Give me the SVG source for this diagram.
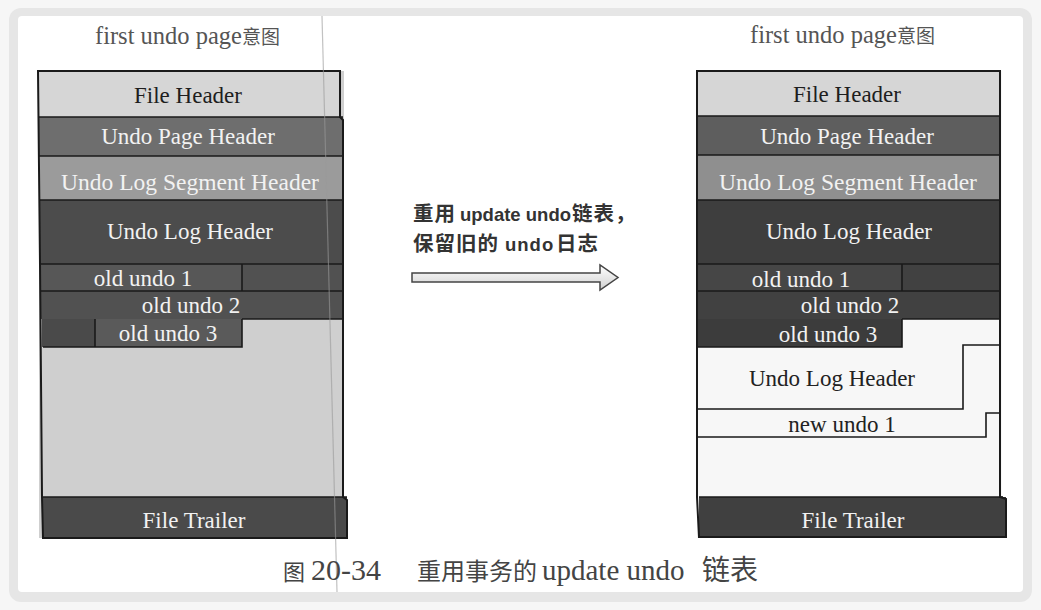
<svg xmlns="http://www.w3.org/2000/svg" width="1041" height="610" viewBox="0 0 1041 610">
<style>
.serif{font-family:"Liberation Serif","Noto Serif CJK SC","Noto Sans CJK SC",serif;}
.lbl{font-family:"Liberation Serif",serif;font-size:23px;text-anchor:middle;}
.lt{fill:#f2f2f2;}
.dk{fill:#1e1e1e;}
.sep{stroke:#1a1a1a;stroke-width:1.6;fill:none;}
.frame{stroke:#1a1a1a;stroke-width:2;fill:none;}
.title{font-family:"Liberation Serif","Noto Sans CJK SC",serif;font-size:24.5px;fill:#555;}
.cj{font-family:"Noto Sans CJK SC",sans-serif;font-size:19px;}
.cjkb{font-family:"Noto Sans CJK SC","Liberation Sans",sans-serif;font-size:20.5px;letter-spacing:1px;font-weight:bold;fill:#333;}
.lat{font-family:"Liberation Sans",sans-serif;font-size:18.5px;font-weight:bold;fill:#333;}
.capc{font-family:"Noto Sans CJK SC",sans-serif;font-size:24px;fill:#444;}
.capl{font-family:"Liberation Serif",serif;font-size:29px;fill:#444;}
</style>
<rect width="1041" height="610" fill="#f6f6f6"/>
<rect x="9" y="8" width="1023" height="594" rx="12" fill="#e6e6e6"/>
<rect x="18" y="16" width="1005" height="576" rx="4" fill="#ffffff"/>

<text class="title" x="95" y="44">first undo page<tspan class="cj">意图</tspan></text>
<text class="title" x="750" y="43">first undo page<tspan class="cj">意图</tspan></text>

<!-- left page -->
<g id="left-page">
  <rect x="39" y="71" width="305" height="467" fill="#cfcfcf"/>
  <g id="l-file-header"><rect x="39" y="71" width="302" height="46" fill="#d6d6d6"/><text class="lbl dk" x="188" y="103">File Header</text></g>
  <g id="l-undo-page-header"><rect x="39" y="117" width="304" height="39" fill="#6e6e6e"/><text class="lbl lt" x="188" y="144">Undo Page Header</text></g>
  <g id="l-undo-log-segment-header"><rect x="40" y="156" width="303" height="44" fill="#9b9b9b"/><text class="lbl lt" x="190" y="190" style="font-size:23.5px">Undo Log Segment Header</text></g>
  <g id="l-undo-log-header"><rect x="40" y="200" width="303" height="64" fill="#4c4c4c"/><text class="lbl lt" x="190" y="239">Undo Log Header</text></g>
  <g id="l-old-undo-1"><rect x="41" y="264" width="302" height="55" fill="#515151"/><rect x="41" y="264" width="201" height="27" fill="#575757"/><text class="lbl lt" x="143" y="286">old undo 1</text></g>
  <g id="l-old-undo-2"><text class="lbl lt" x="191" y="313">old undo 2</text></g>
  <g id="l-old-undo-3"><rect x="42" y="319" width="200" height="28" fill="#4a4a4a"/><rect x="95" y="319" width="147" height="28" fill="#5a5a5a"/><text class="lbl lt" x="168" y="341">old undo 3</text></g>
  <g id="l-file-trailer"><rect x="43" y="497" width="304" height="41" fill="#4a4a4a"/><text class="lbl lt" x="194" y="528">File Trailer</text></g>
  <path class="sep" d="M39 117H343M39 156H343M40 200H343M40 264H343M41 291H343M242 264V291M242 319H343M242 319V347H43M95 319V347M43 497H347"/>
  <path class="frame" d="M38 71H340V117L343 120V497L347 500V538H43L42 497L40 264L38 71Z"/>
</g>

<!-- arrow and label -->
<g id="arrow-label">
  <text class="cjkb" x="413" y="221">重用</text>
  <text class="lat" x="460" y="221">update undo</text>
  <text class="cjkb" x="572" y="221">链表，</text>
  <text class="cjkb" x="413" y="251">保留旧的</text>
  <text class="lat" x="505" y="251" letter-spacing="1">undo</text>
  <text class="cjkb" x="556" y="251">日志</text>
</g>
<g id="connectors">
  <defs><linearGradient id="ag" x1="0" y1="0" x2="0" y2="1"><stop offset="0" stop-color="#ffffff"/><stop offset="1" stop-color="#d0d0d0"/></linearGradient></defs>
  <path d="M412 273H600V265L618 277.5L600 290V282H412Z" fill="url(#ag)" stroke="#444" stroke-width="1.5" stroke-linejoin="miter"/>
</g>

<!-- right page -->
<g id="right-page">
  <rect x="697" y="71" width="305" height="467" fill="#f7f7f7"/>
  <g id="r-file-header"><rect x="697" y="71" width="303" height="45" fill="#d6d6d6"/><text class="lbl dk" x="847" y="102">File Header</text></g>
  <g id="r-undo-page-header"><rect x="697" y="116" width="303" height="39" fill="#5e5e5e"/><text class="lbl lt" x="847" y="144">Undo Page Header</text></g>
  <g id="r-undo-log-segment-header"><rect x="697" y="155" width="303" height="45" fill="#8f8f8f"/><text class="lbl lt" x="848" y="190" style="font-size:23.5px">Undo Log Segment Header</text></g>
  <g id="r-undo-log-header"><rect x="697" y="200" width="303" height="64" fill="#3e3e3e"/><text class="lbl lt" x="849" y="239">Undo Log Header</text></g>
  <g id="r-old-undo-1"><rect x="697" y="264" width="303" height="55" fill="#414141"/><rect x="697" y="264" width="205" height="27" fill="#464646"/><text class="lbl lt" x="801" y="287">old undo 1</text></g>
  <g id="r-old-undo-2"><text class="lbl lt" x="850" y="313">old undo 2</text></g>
  <g id="r-old-undo-3"><rect x="697" y="319" width="205" height="28" fill="#3c3c3c"/><text class="lbl lt" x="828" y="342">old undo 3</text></g>
  <g id="r-new-undo-log-header"><text class="lbl" x="832" y="386" fill="#222">Undo Log Header</text></g>
  <g id="r-new-undo-1"><text class="lbl" x="842" y="432" fill="#222">new undo 1</text></g>
  <g id="r-file-trailer"><rect x="699" y="497" width="307" height="40" fill="#404040"/><text class="lbl lt" x="853" y="528">File Trailer</text></g>
  <path class="sep" d="M697 116H1000M697 155H1000M697 200H1000M697 264H1000M697 291H1000M902 264V291M902 319H1000M902 319V347H697"/>
  <path class="sep" d="M697 409H963V345H1001M1001 413H986V437H697M699 497H1003"/>
  <path class="frame" d="M697 71H1000V497L1006 499V537H699L697 497Z"/>
</g>

<line x1="322" y1="16" x2="337" y2="592" stroke="#9a9a9a" stroke-width="1.2" opacity="0.6"/>

<g id="caption">
  <text class="capc" x="283" y="580" style="font-size:22px">图</text>
  <text class="capl" x="311" y="580" style="font-size:30px">20-34</text>
  <text class="capc" x="417" y="580">重用事务的</text>
  <text class="capl" x="542" y="580">update undo</text>
  <text class="capc" x="702" y="580" style="font-size:28px">链表</text>
</g>
</svg>
